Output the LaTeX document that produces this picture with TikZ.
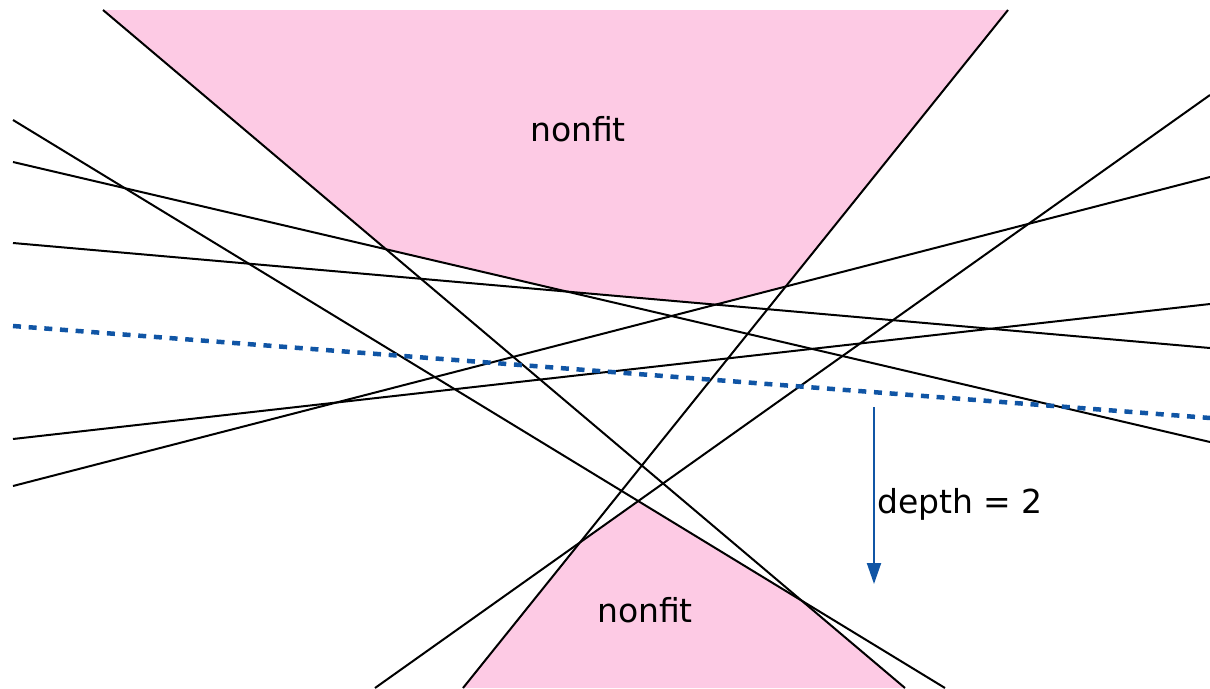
\documentclass[tikz,border=0pt]{standalone}
\usepackage{fontspec}
\setmainfont{DejaVu Sans}
\usetikzlibrary{arrows.meta}
\definecolor{pinkfill}{RGB}{253,202,228}
\definecolor{depthblue}{RGB}{16,85,165}
\begin{document}
\begin{tikzpicture}[x=1pt,y=-1pt,
  line/.style={draw=black,line width=2pt},
  median/.style={draw=depthblue,line width=4.5pt,dash pattern=on 8pt off 7.7pt},
  depthArrow/.style={draw=depthblue,line width=2pt,-{Triangle[length=21pt,width=14pt]}},
  lbl/.style={font=\fontsize{33}{38}\selectfont,inner sep=0pt}]
\useasboundingbox[fill=white] (0,0) rectangle (1210,688);
% end points of the lines
\coordinate (Ts) at (103,10);   \coordinate (Te) at (905,688);
\coordinate (Xs) at (1008,10);  \coordinate (Xe) at (463,688);
\coordinate (As) at (13,120);   \coordinate (Ae) at (945,688);
\coordinate (Rs) at (1210,95);  \coordinate (Re) at (375,688);
\coordinate (Bs) at (13,162);   \coordinate (Be) at (1210,442);
\coordinate (Cs) at (13,243);   \coordinate (Ce) at (1210,348);
\coordinate (Ds) at (13,439);   \coordinate (De) at (1210,304);
\coordinate (Es) at (13,486);   \coordinate (Ee) at (1210,177);
\coordinate (Ms) at (13,326);   \coordinate (Me) at (1210,418);
% vertices of the nonfit regions
\coordinate (p1) at (intersection of Ts--Te and Bs--Be);
\coordinate (p2) at (intersection of Bs--Be and Cs--Ce);
\coordinate (p3) at (intersection of Cs--Ce and Es--Ee);
\coordinate (p4) at (intersection of Es--Ee and Xs--Xe);
\coordinate (q1) at (intersection of Xs--Xe and Rs--Re);
\coordinate (q2) at (intersection of As--Ae and Rs--Re);
\coordinate (q3) at (intersection of As--Ae and Ts--Te);
\fill[pinkfill] (Ts) -- (p1) -- (p2) -- (p3) -- (p4) -- (Xs) -- cycle;
\fill[pinkfill] (Xe) -- (q1) -- (q2) -- (q3) -- (Te) -- cycle;
% lines
\draw[line] (Ts) -- (Te);
\draw[line] (Xs) -- (Xe);
\draw[line] (As) -- (Ae);
\draw[line] (Rs) -- (Re);
\draw[line] (Bs) -- (Be);
\draw[line] (Cs) -- (Ce);
\draw[line] (Ds) -- (De);
\draw[line] (Es) -- (Ee);
\draw[median] (Ms) -- (Me);
% depth arrow
\coordinate (a1) at (874,407);
\coordinate (a2) at (874,584);
\draw[depthArrow] (a1) -- (a2);
\node[lbl,anchor=base west] (depth) at (877,513) {depth = 2};
\node[lbl,anchor=base] (nf1) at (578,141) {nonfit};
\node[lbl,anchor=base] (nf2) at (645,622) {nonfit};
\end{tikzpicture}
\end{document}
